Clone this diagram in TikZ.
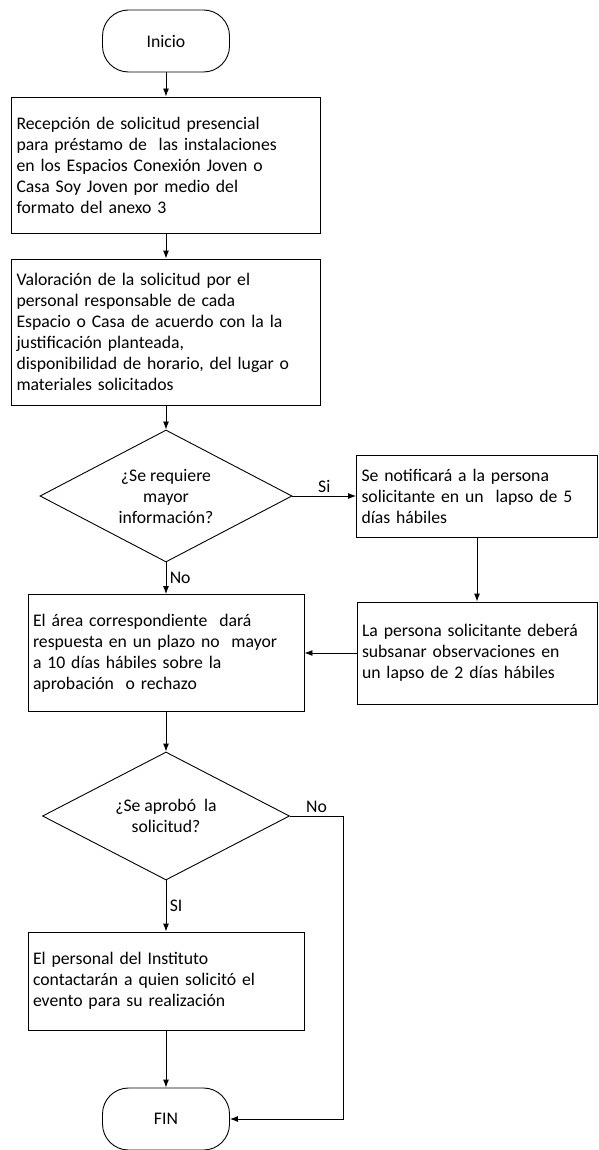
\documentclass[tikz,border=0pt]{standalone}
\usepackage{fontspec}
\setmainfont{Carlito}
\usetikzlibrary{shapes.geometric,positioning,arrows.meta}

\begin{document}
\begin{tikzpicture}[x=1pt,y=1pt,on grid,auto,
    font=\fontsize{17.7}{21}\selectfont,line width=0.9pt,
    terminal/.style={draw,rounded corners=26pt,minimum width=127pt,minimum height=62pt},
    paso/.style={draw,rectangle,align=left,inner xsep=5pt},
    decision/.style={draw,diamond,aspect=2,inner sep=0pt,align=center},
    flecha/.style={-{Latex[length=8pt,width=6pt]}}]
    \useasboundingbox (0,0) rectangle (599,-1150);

    \node[terminal] (inicio) at (166,-41) {Inicio};
    \node[paso,text width=299pt,minimum height=136pt] (recep) [below=124pt of inicio]
        {Recepción de solicitud presencial\\
         para préstamo de \ las instalaciones\\
         en los Espacios Conexión Joven o\\
         Casa Soy Joven por medio del\\
         formato del anexo 3};
    \node[paso,text width=299pt,minimum height=146pt] (valor) [below=167pt of recep]
        {Valoración de la solicitud por el\\
         personal responsable de cada\\
         Espacio o Casa de acuerdo con la la\\
         justificación planteada,\\
         disponibilidad de horario, del lugar o\\
         materiales solicitados};
    \node[decision,minimum width=252pt,minimum height=132pt] (info) [below=164pt of valor]
        {¿Se requiere\\ mayor\\ información?};
    \node[paso,text width=231pt,minimum height=82pt] (notif) [right=311pt of info]
        {Se notificará a la persona\\
         solicitante en un \ lapso de 5\\
         días hábiles};
    \node[paso,text width=230pt,minimum height=102pt] (subsana) [below=157pt of notif]
        {La persona solicitante deberá\\
         subsanar observaciones en\\
         un lapso de 2 días hábiles};
    \node[paso,text width=266pt,minimum height=117pt] (resp) [below=157pt of info]
        {El área correspondiente \ dará\\
         respuesta en un plazo no \ mayor\\
         a 10 días hábiles sobre la\\
         aprobación \ o rechazo};
    \node[decision,minimum width=247pt,minimum height=128pt] (aprob) [below=163pt of resp]
        {¿Se aprobó \ la\\ solicitud?};
    \node[paso,text width=266pt,minimum height=98pt] (contacto) [below=165pt of aprob]
        {El personal del Instituto\\
         contactarán a quien solicitó el\\
         evento para su realización};
    \node[terminal] (fin) [below=138pt of contacto] {FIN};

    \path[flecha] (inicio) edge (recep)
              (recep) edge (valor)
              (valor) edge (info)
              (info) edge node {Si} (notif)
              (info) edge node {No} (resp)
              (notif) edge (subsana)
              (subsana) edge (resp)
              (resp) edge (aprob)
              (aprob) edge node {SI} (contacto)
              (contacto) edge (fin);
    \draw[flecha] (aprob.east) -- node {No} ++(53,0) |- (fin.east);
  \end{tikzpicture}
\end{document}
